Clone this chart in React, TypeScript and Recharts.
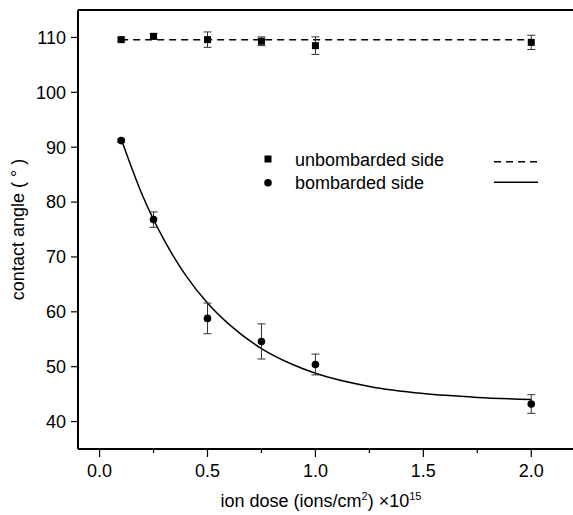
import {
  ComposedChart,
  Scatter,
  Line,
  XAxis,
  YAxis,
  ErrorBar,
  ReferenceLine,
  Legend,
  Label,
} from "recharts";

// measured doses (x 10^15 ions/cm^2)
const doses = [0.1, 0.25, 0.5, 0.75, 1.0, 2.0];

// contact angle, unbombarded side
const unbombarded = [109.6, 110.2, 109.6, 109.3, 108.5, 109.1];
const unbombardedErr = [0.3, 0.5, 1.4, 0.8, 1.6, 1.3];

// contact angle, bombarded side
const bombarded = [91.2, 76.8, 58.8, 54.6, 50.4, 43.2];
const bombardedErr = [0.3, 1.4, 2.8, 3.2, 1.9, 1.7];

// flat fit for the unbombarded side
const flatFitDoses = [0.1, 2.0];
const flatFitAngles = [109.6, 109.6];

// decay fit for the bombarded side
const fitDoses = [0.1, 0.2, 0.3, 0.4, 0.5, 0.6, 0.75, 0.9, 1.0, 1.25, 1.5, 1.75, 2.0];
const fitAngles = [91.5, 81.1, 73.0, 66.6, 61.6, 57.7, 53.3, 50.3, 48.8, 46.4, 45.1, 44.4, 44.0];

const xTicks = [0, 0.25, 0.5, 0.75, 1.0, 1.25, 1.5, 1.75, 2.0];
const yTicks = [40, 50, 60, 70, 80, 90, 100, 110];

const unbData = doses.map((x, i) => ({ x, y: unbombarded[i], err: unbombardedErr[i] }));
const bomData = doses.map((x, i) => ({ x, y: bombarded[i], err: bombardedErr[i] }));
const flatData = flatFitDoses.map((x, i) => ({ x, y: flatFitAngles[i] }));
const fitData = fitDoses.map((x, i) => ({ x, y: fitAngles[i] }));

const FONT = "'Liberation Sans', Arial, sans-serif";

const SquareDot = (props: any) => {
  const { cx, cy } = props;
  return <rect x={cx - 3.5} y={cy - 3.5} width={7} height={7} fill="#000" />;
};

const RoundDot = (props: any) => {
  const { cx, cy } = props;
  return <circle cx={cx} cy={cy} r={3.8} fill="#000" />;
};

const XTick = (props: any) => {
  const { x, y, payload } = props;
  const v = payload.value as number;
  const major = Math.abs(v * 2 - Math.round(v * 2)) < 1e-6;
  return (
    <g>
      <line x1={x} x2={x} y1={y} y2={y + (major ? 8 : 4)} stroke="#000" strokeWidth={1.2} />
      {major && (
        <text x={x} y={y + 28} textAnchor="middle" fontSize={18} fill="#000" fontFamily={FONT}>
          {v.toFixed(1)}
        </text>
      )}
    </g>
  );
};

const renderLegend = () => (
  <svg width={300} height={50} style={{ fontFamily: FONT }}>
    <rect x={14.5} y={10.5} width={7} height={7} fill="#000" />
    <text x={45} y={21} fontSize={18} fill="#000">unbombarded side</text>
    <line x1={244} x2={288} y1={16.7} y2={16.7} stroke="#000" strokeWidth={1.5} strokeDasharray="7 5" />
    <circle cx={18} cy={37.7} r={3.8} fill="#000" />
    <text x={45} y={43.5} fontSize={18} fill="#000">bombarded side</text>
    <line x1={244} x2={288} y1={37.3} y2={37.3} stroke="#000" strokeWidth={1.5} />
  </svg>
);

const XLabel = (props: any) => {
  const { viewBox } = props;
  const x = viewBox.x + 243;
  const y = viewBox.y + 58;
  return (
    <text x={x} y={y} textAnchor="middle" fontSize={18} fill="#000" fontFamily={FONT}>
      ion dose (ions/cm
      <tspan fontSize={11} dy={-7}>2</tspan>
      <tspan dy={7}>) ×10</tspan>
      <tspan fontSize={11} dy={-7}>15</tspan>
    </text>
  );
};

export default function App() {
  return (
    <div
      style={{
        position: "absolute",
        left: 0,
        top: 0,
        width: 573,
        height: 515,
        overflow: "hidden",
        background: "#fff",
      }}
    >
      <ComposedChart
        width={606}
        height={515}
        margin={{ top: 10, right: 10, left: 0, bottom: 0 }}
        style={{ fontFamily: FONT }}
      >
        <XAxis
          type="number"
          dataKey="x"
          domain={[-0.1, 2.3]}
          ticks={xTicks}
          interval={0}
          height={66}
          tickLine={false}
          tickSize={0}
          tickMargin={0}
          tick={<XTick />}
          axisLine={{ stroke: "#000", strokeWidth: 2 }}
        >
          <Label content={<XLabel />} />
        </XAxis>
        <YAxis
          type="number"
          dataKey="y"
          domain={[35, 115]}
          ticks={yTicks}
          interval={0}
          width={78}
          tickSize={7}
          tickMargin={5}
          tickLine={{ stroke: "#000", strokeWidth: 1.2 }}
          axisLine={{ stroke: "#000", strokeWidth: 2 }}
          tick={{ fill: "#000", fontSize: 18, fontFamily: FONT }}
        >
          <Label
            value="contact angle ( ° )"
            angle={-90}
            position="insideLeft"
            offset={18}
            style={{ textAnchor: "middle", fill: "#000", fontSize: 18, fontFamily: FONT }}
          />
        </YAxis>
        <ReferenceLine y={115} stroke="#000" strokeWidth={2} />
        <Line
          data={flatData}
          dataKey="y"
          type="linear"
          stroke="#000"
          strokeWidth={1.5}
          strokeDasharray="7 5"
          dot={false}
          activeDot={false}
          isAnimationActive={false}
        />
        <Line
          data={fitData}
          dataKey="y"
          type="monotone"
          stroke="#000"
          strokeWidth={1.5}
          dot={false}
          activeDot={false}
          isAnimationActive={false}
        />
        <Scatter data={unbData} dataKey="y" shape={<SquareDot />} isAnimationActive={false}>
          <ErrorBar dataKey="err" direction="y" width={4} stroke="#333" strokeWidth={1} />
        </Scatter>
        <Scatter data={bomData} dataKey="y" shape={<RoundDot />} isAnimationActive={false}>
          <ErrorBar dataKey="err" direction="y" width={4} stroke="#333" strokeWidth={1} />
        </Scatter>
        <Legend
          layout="vertical"
          align="center"
          verticalAlign="middle"
          content={renderLegend}
          wrapperStyle={{ left: 250, top: 145, width: 300, height: 50 }}
        />
      </ComposedChart>
    </div>
  );
}
